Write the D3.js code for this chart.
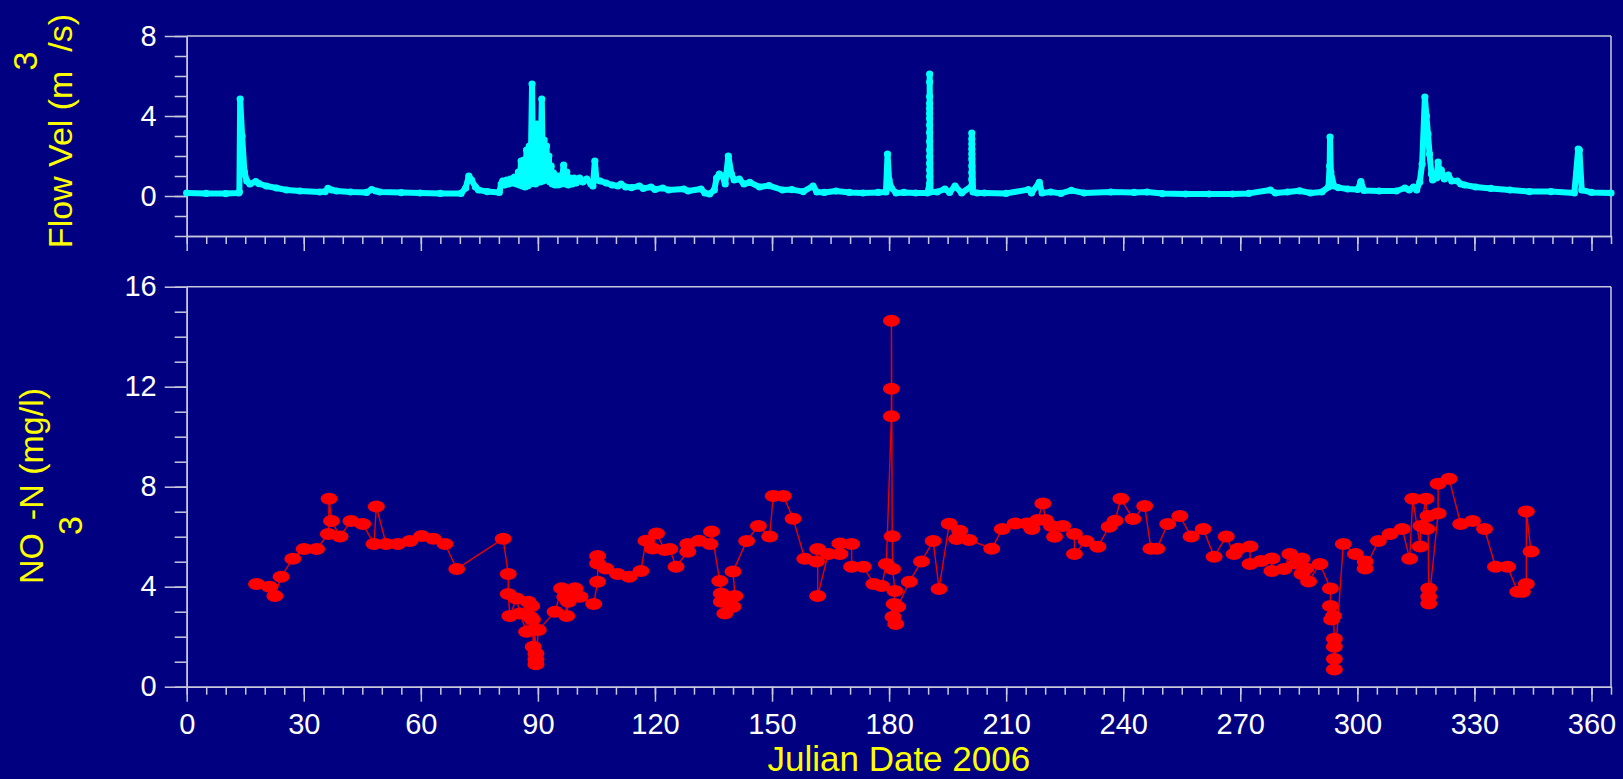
<!DOCTYPE html>
<html>
<head>
<meta charset="utf-8">
<script src="https://cdn.jsdelivr.net/npm/d3@7"></script>
<style>
  html, body { margin: 0; padding: 0; background: #000080; }
  svg { display: block; }
  text { font-family: "Liberation Sans", Arial, Helvetica, sans-serif; }
</style>
</head>
<body>
<svg id="chart" width="1623" height="779"></svg>
<script>
// Axis ticks
const dayTicks = [0, 30, 60, 90, 120, 150, 180, 210, 240, 270, 300, 330, 360];
const dayMinorTicks = d3.range(0, 366, 5);
const flowTicks = [0, 4, 8];
const flowMinorTicks = d3.range(-2, 8.5, 1);
const no3Ticks = [0, 4, 8, 12, 16];
const no3MinorTicks = d3.range(0, 16.5, 1);

// Flow velocity record, [Julian day, m3/s]
const flowReadings = [
  [0, 0.15], [5, 0.13], [10, 0.12], [13.3, 0.15], [13.5, 0.2], [13.7, 4.85], [14.2, 3.0],
  [14.8, 1.2], [15.4, 0.75], [16.2, 0.6], [17.7, 0.72], [18.5, 0.62], [20.4, 0.5], [23.0, 0.4],
  [25.6, 0.3], [29.0, 0.25], [34.1, 0.2], [35.5, 0.22], [36.2, 0.38], [37.2, 0.3], [38.4, 0.25],
  [42, 0.2], [46.1, 0.18], [47.4, 0.32], [48.5, 0.25], [49.5, 0.2], [55, 0.17], [59.8, 0.15],
  [65, 0.13], [70.3, 0.13], [71.5, 0.4], [72.3, 1.0], [73.0, 0.8], [74.0, 0.45], [74.8, 0.3],
  [77.0, 0.22], [80.1, 0.18], [80.6, 0.6], [81.0, 0.75], [81.5, 0.55], [82.0, 0.8], [82.5, 0.6],
  [83.0, 0.85], [83.5, 0.65], [84.0, 0.95], [84.5, 0.6], [85.0, 1.2], [85.3, 0.55], [85.7, 1.75],
  [86.0, 0.5], [86.4, 1.8], [86.7, 0.45], [87.1, 2.3], [87.4, 0.5], [87.8, 2.5], [88.1, 0.6],
  [88.5, 5.6], [88.8, 0.65], [89.1, 3.5], [89.4, 0.6], [89.7, 3.6], [90.0, 0.7], [90.3, 3.1],
  [90.6, 0.7], [91.0, 4.85], [91.3, 0.75], [91.6, 2.8], [91.9, 0.8], [92.2, 2.5], [92.5, 0.8],
  [92.8, 2.0], [93.1, 0.7], [93.4, 1.5], [93.7, 0.6], [94.0, 1.15], [94.4, 0.55], [94.8, 1.0],
  [95.2, 0.55], [95.6, 1.0], [96.0, 0.6], [96.6, 1.55], [97.0, 0.6], [97.4, 1.2], [97.8, 0.55],
  [98.3, 0.9], [98.8, 0.6], [99.3, 0.9], [99.8, 0.65], [100.7, 0.9], [101.5, 0.7], [102.5, 0.85],
  [103.6, 0.6], [104.1, 0.5], [104.6, 1.75], [105.0, 0.8], [106.0, 0.75], [107.5, 0.65],
  [109.0, 0.55], [110.5, 0.5], [111.3, 0.6], [112.5, 0.45], [114.0, 0.42], [116.0, 0.5],
  [117.0, 0.38], [119.0, 0.45], [120.0, 0.33], [122.0, 0.4], [123.5, 0.3], [127.4, 0.35],
  [128.5, 0.25], [131.8, 0.35], [132.8, 0.15], [134.0, 0.1], [135.2, 0.3], [135.8, 0.9],
  [136.5, 1.1], [137.3, 1.0], [138.0, 0.6], [138.8, 2.0], [139.6, 1.1], [140.3, 0.8],
  [141.6, 0.85], [142.8, 0.6], [144.3, 0.68], [146.8, 0.45], [149.2, 0.52], [152.7, 0.3],
  [155.1, 0.32], [158.0, 0.22], [160.5, 0.5], [161.5, 0.2], [163.4, 0.18], [166.4, 0.25],
  [169.8, 0.18], [173.3, 0.15], [177.2, 0.18], [179.2, 0.2], [179.6, 2.1], [180.0, 0.8],
  [180.6, 0.4], [181.8, 0.15], [183.8, 0.18], [186.8, 0.15], [189.8, 0.15],
  [190.4, 0.63], [190.4, 0.97], [190.4, 1.3], [190.4, 1.63], [190.4, 1.97], [190.4, 2.3],
  [190.4, 2.72], [190.4, 3.17], [190.4, 3.55], [190.4, 3.88], [190.4, 4.13], [190.4, 4.38],
  [190.4, 4.63], [190.4, 4.97], [190.4, 5.7], [190.4, 6.1], [190.6, 0.2],
  [192.3, 0.2], [194.3, 0.35], [195.5, 0.18], [196.9, 0.5], [198.6, 0.15],
  [201.2, 0.5], [201.2, 0.83], [201.2, 1.17], [201.2, 1.5], [201.2, 1.85], [201.2, 2.1],
  [201.2, 2.35], [201.2, 2.6], [201.2, 2.85], [201.2, 3.15], [201.5, 0.2],
  [202.6, 0.15], [204.4, 0.15], [210, 0.13], [215.7, 0.32], [216.5, 0.15], [218.5, 0.68],
  [219.2, 0.15], [221.4, 0.2], [224, 0.13], [226.7, 0.28], [230, 0.15], [236.8, 0.2],
  [242.8, 0.18], [246.1, 0.2], [250, 0.12], [256, 0.1], [262, 0.1], [268, 0.1], [272.2, 0.13],
  [277.7, 0.3], [279, 0.15], [282.1, 0.2], [285.2, 0.26], [288, 0.15], [290.9, 0.2],
  [292.6, 0.45], [292.9, 1.5], [293.0, 2.95], [293.2, 1.2], [294.0, 0.5], [295.1, 0.42],
  [297.5, 0.35], [300.1, 0.33], [300.9, 0.72], [301.7, 0.28], [305.6, 0.25], [310.0, 0.25],
  [312.2, 0.4], [313.3, 0.3], [314.4, 0.45], [315.2, 0.3], [316.0, 0.7], [316.6, 1.6],
  [317.3, 4.95], [317.7, 4.0], [318.1, 3.1], [318.5, 2.1], [319.0, 1.1], [319.3, 0.8],
  [319.8, 1.1], [320.3, 0.9], [320.7, 1.7], [321.2, 1.0], [321.5, 1.3], [322.3, 0.85],
  [323.3, 1.05], [324.2, 0.75], [325.6, 0.75], [326.5, 0.6], [327.5, 0.55], [330.3, 0.45],
  [334.2, 0.38], [339.1, 0.3], [344.1, 0.22], [349.6, 0.22], [355.6, 0.15], [356.6, 2.35],
  [356.9, 2.3], [357.5, 0.3], [360, 0.18], [365, 0.15]
];

// Nitrate-nitrogen samples, [Julian day, mg/l], in sampling order
const no3Samples = [
  [17.9, 4.11], [21.2, 4.0], [22.6, 3.63], [24.2, 4.4], [27.2, 5.12], [30.1, 5.51], [33.3, 5.51],
  [36.3, 6.11], [36.5, 7.52], [37.1, 6.63], [39.3, 6.01], [42.1, 6.63], [45.1, 6.51],
  [48.0, 5.71], [48.6, 7.21], [51.1, 5.71], [54.1, 5.71], [57.2, 5.83], [60.2, 6.03],
  [63.2, 5.92], [66.2, 5.71], [69.2, 4.71], [81.1, 5.92], [82.4, 4.51], [82.4, 3.71],
  [82.8, 2.83], [84.5, 3.53], [85.4, 2.93], [87.1, 2.2], [87.5, 3.4], [88.0, 2.8], [88.4, 3.23],
  [88.6, 2.69], [88.8, 1.6], [89.2, 2.31], [89.5, 1.33], [89.5, 1.1], [89.5, 0.9], [90.1, 2.27],
  [94.4, 3.0], [96.1, 3.94], [96.9, 3.6], [97.4, 2.83], [97.8, 3.4], [99.5, 3.94], [100.8, 3.6],
  [104.3, 3.31], [105.3, 4.2], [105.3, 4.93], [105.3, 5.23], [107.4, 4.73], [110.4, 4.51],
  [113.4, 4.4], [116.4, 4.63], [117.7, 5.84], [119.4, 5.53], [120.4, 6.13], [122.5, 5.47],
  [123.8, 5.51], [125.4, 4.8], [128.4, 5.4], [128.4, 5.71], [131.3, 5.84], [134.1, 5.71],
  [134.5, 6.21], [136.6, 4.23], [137.0, 3.73], [137.0, 3.4], [137.9, 2.93], [139.2, 3.31],
  [140.0, 3.2], [140.5, 3.63], [140.0, 4.61], [143.5, 5.83], [146.5, 6.43], [149.4, 6.01],
  [150.3, 7.63], [152.9, 7.63], [155.4, 6.72], [158.4, 5.12], [161.4, 5.01], [161.7, 5.51],
  [161.7, 3.63], [164.4, 5.31], [167.4, 5.31], [167.4, 5.73], [170.4, 5.71], [170.4, 4.8],
  [173.4, 4.8], [176.1, 4.11], [178.1, 4.03], [179.3, 4.91], [180.6, 10.82], [180.6, 11.92],
  [180.6, 14.64], [180.8, 6.02], [180.9, 4.71], [181.5, 3.83], [181.3, 3.31], [181.0, 2.8],
  [181.7, 2.51], [182.2, 3.2], [185.2, 4.2], [188.3, 5.01], [191.3, 5.83], [192.8, 3.91],
  [195.4, 6.52], [197.3, 5.91], [198.1, 6.24], [200.5, 5.87], [206.3, 5.52], [209.0, 6.31],
  [212.3, 6.53], [215.3, 6.53], [216.6, 6.31], [218.1, 6.67], [219.4, 7.33], [220.1, 6.67],
  [221.6, 6.43], [222.4, 6.0], [224.5, 6.43], [227.5, 6.11], [227.5, 5.31], [230.5, 5.83],
  [233.5, 5.6], [236.4, 6.4], [237.9, 6.64], [239.4, 7.52], [242.5, 6.71], [245.5, 7.23],
  [247.1, 5.52], [248.6, 5.52], [251.4, 6.51], [254.5, 6.83], [257.4, 6.01], [260.5, 6.31],
  [263.3, 5.2], [266.4, 6.01], [268.4, 5.31], [269.5, 5.52], [272.5, 5.61], [272.5, 4.91],
  [275.3, 5.03], [278.1, 5.13], [278.1, 4.63], [281.2, 4.71], [282.7, 5.31], [284.2, 4.93],
  [285.8, 5.13], [285.8, 4.51], [286.8, 4.73], [287.5, 4.21], [290.4, 4.91], [293.1, 3.93],
  [293.1, 3.23], [293.4, 2.69], [293.9, 2.83], [294.1, 1.92], [294.1, 1.6], [294.1, 1.11],
  [294.1, 0.69], [296.4, 5.71], [299.5, 5.31], [302.0, 5.01], [302.0, 4.73], [305.4, 5.83],
  [308.4, 6.11], [311.5, 6.31], [313.4, 5.12], [314.2, 7.52], [316.1, 5.61], [316.3, 6.43],
  [317.6, 7.52], [317.8, 6.31], [318.1, 6.83], [318.3, 3.93], [318.3, 3.6], [318.3, 3.33],
  [320.7, 6.93], [320.7, 8.12], [323.5, 8.32], [326.5, 6.51], [329.5, 6.63], [332.6, 6.31],
  [335.4, 4.8], [338.5, 4.8], [341.1, 3.8], [342.3, 3.8], [343.3, 4.11], [343.3, 7.01],
  [344.5, 5.41]
];

const BG = "#000080";
const AXIS = "#c8c8dc";
const LABEL = "#ffffff";
const TITLE = "#ffff00";
const FLOW = "#00ffff";
const NO3 = "#ff0000";

const svg = d3.select("#chart");
svg.append("rect").attr("width", 1623).attr("height", 779).attr("fill", BG);

const x = d3.scaleLinear().domain([0, 365]).range([186.7, 1611]);
const yFlow = d3.scaleLinear().domain([-2, 8]).range([236, 36]);
const yNo3 = d3.scaleLinear().domain([0, 16]).range([686.7, 286.7]);

function styleAxis(g) {
  g.selectAll(".domain").attr("stroke", AXIS).attr("stroke-width", 1.5);
  g.selectAll(".tick line").attr("stroke", AXIS).attr("stroke-width", 1.5);
  g.selectAll(".tick text").attr("fill", LABEL).attr("font-size", 29)
    .attr("font-family", '"Liberation Sans", Arial, sans-serif');
}

function drawPanel(yScale, major, minor, showDayLabels) {
  const [y0, y1] = yScale.range();
  const panel = svg.append("g");

  // frame top and right edges
  panel.append("line").attr("x1", x(0)).attr("x2", x(365)).attr("y1", y1).attr("y2", y1)
    .attr("stroke", AXIS).attr("stroke-width", 1.5);
  panel.append("line").attr("x1", x(365)).attr("x2", x(365)).attr("y1", y1).attr("y2", y0)
    .attr("stroke", AXIS).attr("stroke-width", 1.5);

  // left axis: minor then major ticks
  const left = panel.append("g").attr("transform", `translate(${x(0)},0)`);
  left.append("g").call(d3.axisLeft(yScale).tickValues(minor).tickSize(12).tickSizeOuter(0).tickFormat(""))
    .call(styleAxis);
  left.append("g").call(d3.axisLeft(yScale).tickValues(major).tickSize(22).tickPadding(8).tickSizeOuter(0))
    .call(styleAxis);

  // bottom axis
  const bottom = panel.append("g").attr("transform", `translate(0,${y0})`);
  bottom.append("g").call(d3.axisBottom(x).tickValues(dayMinorTicks).tickSize(8).tickSizeOuter(0).tickFormat(""))
    .call(styleAxis);
  const maj = d3.axisBottom(x).tickValues(dayTicks).tickSize(15).tickPadding(12).tickSizeOuter(0);
  if (!showDayLabels) maj.tickFormat("");
  bottom.append("g").call(maj).call(styleAxis);
  return panel;
}

// Upper panel: flow velocity
drawPanel(yFlow, flowTicks, flowMinorTicks, false);
const flowLine = d3.line().x(d => x(d[0])).y(d => yFlow(d[1]));
svg.append("path").datum(flowReadings).attr("d", flowLine)
  .attr("fill", "none").attr("stroke", FLOW).attr("stroke-width", 6)
  .attr("stroke-linejoin", "round").attr("stroke-linecap", "round");
svg.append("g").selectAll("circle").data(flowReadings).join("circle")
  .attr("cx", d => x(d[0])).attr("cy", d => yFlow(d[1])).attr("r", 3.6).attr("fill", FLOW);

// Lower panel: NO3-N concentration
drawPanel(yNo3, no3Ticks, no3MinorTicks, true);
const no3Line = d3.line().x(d => x(d[0])).y(d => yNo3(d[1]));
svg.append("path").datum(no3Samples).attr("d", no3Line)
  .attr("fill", "none").attr("stroke", "#e80000").attr("stroke-width", 1.4);
svg.append("g").selectAll("ellipse").data(no3Samples).join("ellipse")
  .attr("cx", d => x(d[0])).attr("cy", d => yNo3(d[1])).attr("rx", 8.5).attr("ry", 6)
  .attr("fill", NO3);

// Axis titles
svg.append("text").attr("x", (x(0) + x(365)) / 2).attr("y", 771)
  .attr("text-anchor", "middle").attr("font-size", 35).attr("fill", TITLE)
  .text("Julian Date 2006");

const flowTitle = svg.append("text")
  .attr("transform", "translate(72,131) rotate(-90)")
  .attr("text-anchor", "middle").attr("font-size", 34).attr("fill", TITLE);
flowTitle.append("tspan").text("Flow Vel (m");
flowTitle.append("tspan").attr("dy", -35).text("3");
flowTitle.append("tspan").attr("dy", 35).text("/s)");

const no3Title = svg.append("text")
  .attr("transform", "translate(43,486) rotate(-90)")
  .attr("text-anchor", "middle").attr("font-size", 34).attr("fill", TITLE);
no3Title.append("tspan").text("NO");
no3Title.append("tspan").attr("dy", 39).attr("dx", -2).text("3");
no3Title.append("tspan").attr("dy", -39).attr("dx", -4).text("-N (mg/l)");
</script>
</body>
</html>
